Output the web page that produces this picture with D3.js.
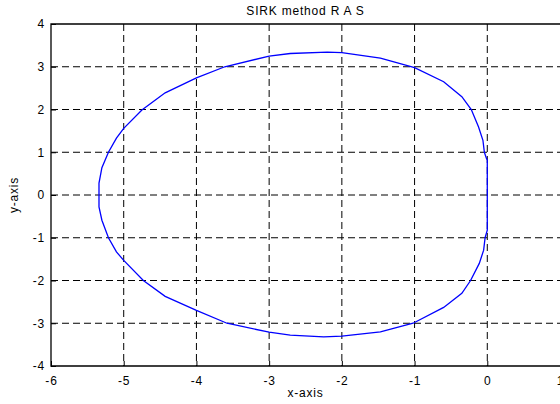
<!DOCTYPE html>
<html>
<head>
<meta charset="utf-8">
<script src="https://cdn.jsdelivr.net/npm/d3@7"></script>
<style>
  body { margin: 0; background: #fff; }
  svg { display: block; font-family: "Liberation Sans", Arial, sans-serif; }
</style>
</head>
<body>
<div id="chart"></div>
<script>
// trajectory, clockwise from the left side
const xs = [-5.34, -5.34, -5.30, -5.21, -5.10, -5.00, -4.75, -4.43, -4.00, -3.61, -3.00, -2.71, -2.20, -2.00,
  -1.47, -1.00, -0.60, -0.35, -0.22, -0.12, -0.06, -0.04, -0.01, 0.00, 0.00, -0.03, -0.05, -0.11, -0.23,
  -0.35, -0.60, -1.02, -1.47, -2.00, -2.25, -2.71, -3.00, -3.58, -4.00, -4.43, -4.73, -5.00, -5.10, -5.21, -5.30];
const ys = [-0.28, 0.28, 0.64, 1.00, 1.33, 1.56, 1.99, 2.39, 2.74, 3.00, 3.25, 3.31, 3.34, 3.33,
  3.20, 2.98, 2.65, 2.30, 2.00, 1.59, 1.28, 1.00, 0.85, 0.82, -0.82, -1.00, -1.29, -1.60, -2.00,
  -2.30, -2.63, -3.00, -3.20, -3.30, -3.32, -3.28, -3.21, -3.00, -2.70, -2.37, -2.00, -1.53, -1.33, -1.00, -0.59];

const xTicks = [-6, -5, -4, -3, -2, -1, 0, 1];
const yTicks = [-4, -3, -2, -1, 0, 1, 2, 3, 4];
const titleText = 'SIRK method R A S';
const xLabel = 'x-axis';
const yLabel = 'y-axis';

const width = 560, height = 404;
const margin = {top: 24, right: 0, bottom: 38, left: 51};
const fontSize = 12, spacing = '0.8px';

const svg = d3.select('#chart').append('svg')
  .attr('width', width)
  .attr('height', height);

const x = d3.scaleLinear().domain([-6, 1]).range([margin.left, width - margin.right]);
const y = d3.scaleLinear().domain([-4, 4]).range([height - margin.bottom, margin.top]);

// grid
svg.append('g').selectAll('line.vg')
  .data(xTicks.slice(1, -1))
  .join('line')
  .attr('x1', d => x(d)).attr('x2', d => x(d))
  .attr('y1', y(4)).attr('y2', y(-4))
  .attr('stroke', '#000').attr('stroke-width', 1)
  .attr('stroke-dasharray', '7,4');

svg.append('g').selectAll('line.hg')
  .data(yTicks.slice(1, -1))
  .join('line')
  .attr('x1', x(-6)).attr('x2', x(1))
  .attr('y1', d => y(d)).attr('y2', d => y(d))
  .attr('stroke', '#000').attr('stroke-width', 1)
  .attr('stroke-dasharray', '7,4');

// box
svg.append('path')
  .attr('d', `M${x(1)},${y(4)}H${x(-6)}V${y(-4)}H${x(1)}`)
  .attr('fill', 'none').attr('stroke', '#000').attr('stroke-width', 1.3);

// curve
const pts = xs.map((v, i) => [v, ys[i]]);
svg.append('path')
  .datum(pts)
  .attr('d', d3.line().x(d => x(d[0])).y(d => y(d[1])).curve(d3.curveLinearClosed))
  .attr('fill', 'none')
  .attr('stroke', '#0000ff')
  .attr('stroke-width', 1.3);

// axes
const xAxis = svg.append('g')
  .attr('transform', `translate(0,${y(-4)})`)
  .call(d3.axisBottom(x).tickValues(xTicks).tickSize(-5).tickPadding(10).tickFormat(d3.format('d')));
const yAxis = svg.append('g')
  .attr('transform', `translate(${x(-6)},0)`)
  .call(d3.axisLeft(y).tickValues(yTicks).tickSize(-5).tickPadding(6).tickFormat(d3.format('d')));
[xAxis, yAxis].forEach(a => {
  a.select('.domain').remove();
  a.selectAll('.tick line').attr('stroke', '#000');
  a.selectAll('.tick text').attr('font-size', fontSize).attr('fill', '#000')
    .attr('letter-spacing', spacing)
    .attr('font-family', '"Liberation Sans", Arial, sans-serif')
    .text(d => d < 0 ? '-' + Math.abs(d) : d);
});

// titles
svg.append('text')
  .attr('x', (x(-6) + x(1)) / 2).attr('y', 15)
  .attr('text-anchor', 'middle').attr('font-size', fontSize)
  .attr('letter-spacing', spacing)
  .text(titleText);

svg.append('text')
  .attr('x', (x(-6) + x(1)) / 2).attr('y', 397)
  .attr('text-anchor', 'middle').attr('font-size', fontSize)
  .attr('letter-spacing', spacing)
  .text(xLabel);

svg.append('text')
  .attr('transform', `translate(18,${(y(4) + y(-4)) / 2}) rotate(-90)`)
  .attr('text-anchor', 'middle').attr('font-size', fontSize)
  .attr('letter-spacing', spacing)
  .text(yLabel);
</script>
</body>
</html>
